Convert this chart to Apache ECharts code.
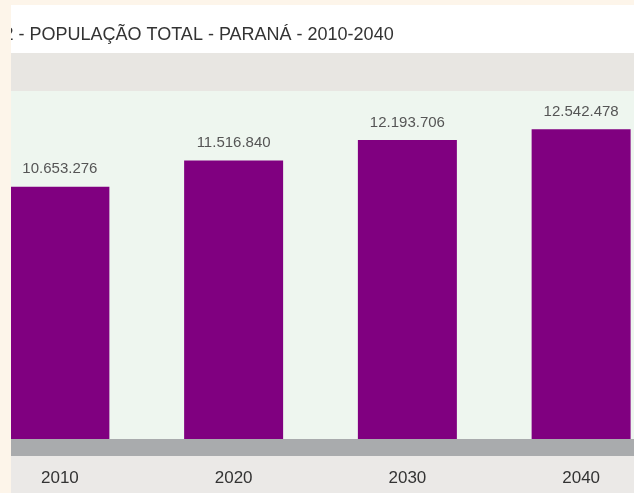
<!DOCTYPE html>
<html>
<head>
<meta charset="utf-8">
<script src="https://cdn.jsdelivr.net/npm/echarts@6/dist/echarts.min.js"></script>
<style>
html,body{margin:0;padding:0;background:#fdf5ea;}
#c{width:634px;height:493px;}
</style>
</head>
<body>
<div id="c"></div>
<script>
const titleText = '2 - POPULAÇÃO TOTAL - PARANÁ - 2010-2040';
const categories = ['2010', '2020', '2030', '2040'];
const population = [10653276, 11516840, 12193706, 12542478];

function fmt(v) {
  return String(v).replace(/\B(?=(\d{3})+(?!\d))/g, '.');
}

const chart = echarts.init(document.getElementById('c'), null, {renderer: 'canvas'});
chart.setOption({
  backgroundColor: '#fdf5ea',
  animation: false,
  graphic: [
    {type: 'rect', z: -10, shape: {x: 0, y: 5, width: 634, height: 48}, style: {fill: '#ffffff'}},
    {type: 'rect', z: -10, shape: {x: 0, y: 53, width: 634, height: 38}, style: {fill: '#e8e6e2'}},
    {type: 'rect', z: -10, shape: {x: 0, y: 91, width: 634, height: 348}, style: {fill: '#eef6ef'}},
    {type: 'rect', z: -10, shape: {x: 0, y: 439, width: 634, height: 17}, style: {fill: '#a9abad'}},
    {type: 'rect', z: -10, shape: {x: 0, y: 456, width: 634, height: 37}, style: {fill: '#ebe9e7'}},
    {type: 'text', z: 5, x: 3.5, y: 35, style: {text: titleText, fill: '#333333', font: '18px "Liberation Sans", Arial, sans-serif', textVerticalAlign: 'middle'}},
    {type: 'rect', z: 100, shape: {x: 0, y: 0, width: 11, height: 493}, style: {fill: '#fdf5ea'}},
    {type: 'rect', z: 100, shape: {x: 0, y: 0, width: 634, height: 5}, style: {fill: '#fdf5ea'}}
  ],
  grid: {left: -27, right: -34, top: 91, bottom: 54, containLabel: false, outerBoundsMode: 'none'},
  xAxis: {
    type: 'category',
    data: categories,
    axisLine: {show: false},
    axisTick: {show: false},
    axisLabel: {
      margin: 31,
      color: '#333333',
      fontSize: 17,
      fontFamily: '"Liberation Sans", Arial, sans-serif'
    }
  },
  yAxis: {
    type: 'value',
    min: 2348000,
    max: 13803000,
    show: false,
    splitLine: {show: false}
  },
  series: [{
    type: 'bar',
    data: population,
    barWidth: 99,
    itemStyle: {color: '#800080'},
    label: {
      show: true,
      position: 'top',
      distance: 10,
      color: '#555555',
      fontSize: 15,
      fontFamily: '"Liberation Sans", Arial, sans-serif',
      formatter: p => fmt(p.value)
    }
  }]
});
</script>
</body>
</html>
